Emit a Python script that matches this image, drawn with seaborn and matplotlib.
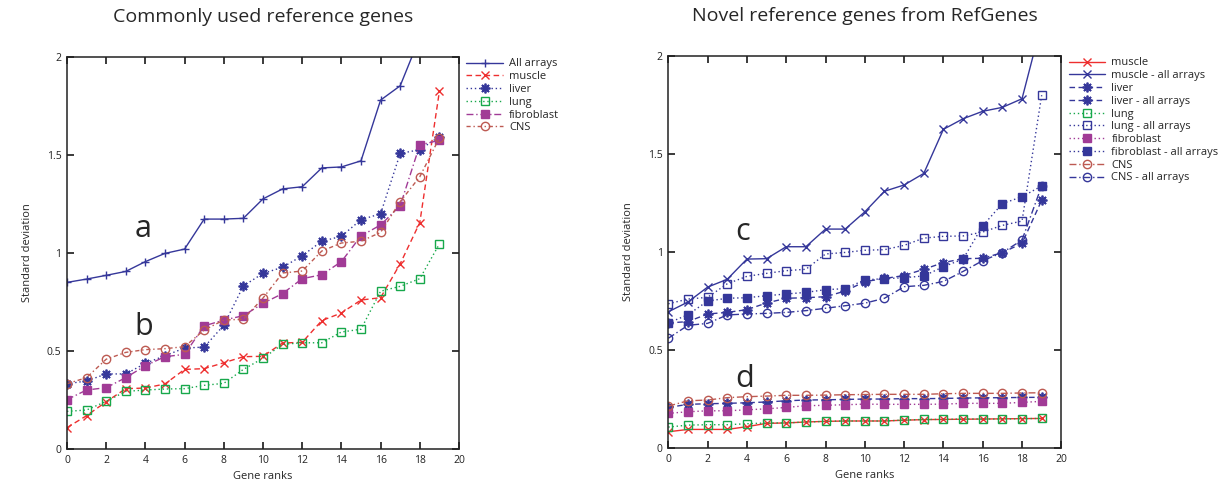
import numpy as np
import pandas as pd
import matplotlib
matplotlib.use("Agg")
import matplotlib.pyplot as plt
import seaborn as sns

# ---- data -------------------------------------------------------------
ranks = list(range(20))

# Commonly used reference genes
all_arrays = [0.85, 0.867, 0.886, 0.906, 0.956, 0.998, 1.02, 1.173, 1.173, 1.177,
              1.276, 1.327, 1.338, 1.434, 1.439, 1.47, 1.78, 1.853, 2.10, 2.30]
muscle_a = [0.109, 0.17, 0.241, 0.308, 0.311, 0.332, 0.406, 0.41, 0.44, 0.471,
            0.473, 0.541, 0.544, 0.655, 0.694, 0.76, 0.772, 0.945, 1.155, 1.825]
liver_a = [0.333, 0.347, 0.383, 0.383, 0.437, 0.476, 0.515, 0.52, 0.631, 0.832,
           0.896, 0.927, 0.986, 1.06, 1.085, 1.17, 1.2, 1.508, 1.527, 1.594]
lung_a = [0.192, 0.199, 0.243, 0.294, 0.301, 0.306, 0.308, 0.325, 0.335, 0.406,
          0.463, 0.534, 0.542, 0.542, 0.597, 0.611, 0.805, 0.83, 0.869, 1.046]
fibro_a = [0.252, 0.301, 0.313, 0.364, 0.425, 0.471, 0.483, 0.628, 0.658, 0.68,
           0.743, 0.793, 0.869, 0.889, 0.956, 1.087, 1.143, 1.241, 1.551, 1.575]
cns_a = [0.333, 0.364, 0.458, 0.493, 0.507, 0.512, 0.522, 0.607, 0.658, 0.662,
         0.77, 0.898, 0.908, 1.01, 1.051, 1.06, 1.105, 1.262, 1.389, 1.587]

# Novel reference genes from RefGenes
muscle_n = [0.083, 0.095, 0.095, 0.095, 0.109, 0.126, 0.128, 0.133, 0.136, 0.138,
            0.138, 0.138, 0.142, 0.145, 0.146, 0.147, 0.148, 0.149, 0.15, 0.151]
muscle_all = [0.695, 0.745, 0.821, 0.861, 0.964, 0.966, 1.027, 1.027, 1.117, 1.117,
              1.205, 1.31, 1.342, 1.401, 1.626, 1.68, 1.718, 1.738, 1.782, 2.17]
liver_n = [0.207, 0.223, 0.226, 0.228, 0.231, 0.235, 0.241, 0.245, 0.246, 0.248,
           0.25, 0.25, 0.252, 0.252, 0.253, 0.255, 0.256, 0.257, 0.258, 0.259]
liver_all = [0.638, 0.645, 0.684, 0.692, 0.706, 0.74, 0.764, 0.767, 0.772, 0.801,
             0.849, 0.865, 0.88, 0.912, 0.946, 0.966, 0.968, 0.997, 1.044, 1.264]
lung_n = [0.107, 0.117, 0.119, 0.119, 0.124, 0.128, 0.128, 0.133, 0.136, 0.138,
          0.138, 0.138, 0.143, 0.146, 0.146, 0.148, 0.148, 0.148, 0.15, 0.151]
lung_all = [0.736, 0.76, 0.769, 0.838, 0.876, 0.891, 0.905, 0.912, 0.99, 0.998,
            1.009, 1.012, 1.034, 1.071, 1.08, 1.082, 1.102, 1.136, 1.158, 1.80]
fibro_n = [0.177, 0.185, 0.19, 0.19, 0.195, 0.2, 0.207, 0.216, 0.218, 0.221,
           0.224, 0.223, 0.223, 0.223, 0.224, 0.228, 0.228, 0.228, 0.233, 0.238]
fibro_all = [0.638, 0.68, 0.75, 0.764, 0.767, 0.777, 0.786, 0.794, 0.808, 0.813,
             0.858, 0.864, 0.869, 0.878, 0.925, 0.964, 1.134, 1.247, 1.282, 1.337]
cns_n = [0.214, 0.241, 0.245, 0.257, 0.262, 0.265, 0.269, 0.269, 0.27, 0.272,
         0.273, 0.274, 0.274, 0.274, 0.277, 0.279, 0.279, 0.279, 0.281, 0.282]
cns_all = [0.56, 0.626, 0.636, 0.679, 0.684, 0.687, 0.692, 0.701, 0.713, 0.726,
           0.739, 0.764, 0.823, 0.83, 0.85, 0.901, 0.956, 0.997, 1.061, 1.337]

# ---- style ------------------------------------------------------------
sns.set_theme(style="ticks")
plt.rcParams["font.family"] = ["Open Sans", "DejaVu Sans"]
plt.rcParams.update({
    "xtick.direction": "in", "ytick.direction": "in",
    "xtick.top": True, "ytick.right": True,
    "xtick.major.size": 5, "ytick.major.size": 5,
    "xtick.labelsize": 7.5, "ytick.labelsize": 7.5,
    "axes.linewidth": 1.1,
})

BLUE = "#35379a"
RED = "#ee2f2f"
GREEN = "#17a84b"
PURPLE = "#a13b96"
BROWN = "#bd5a52"
ASTER = (8, 2, 0)

DOT = (0, (1, 2))
DASH = (0, (4, 2.5))
DASHDOT = (0, (5, 2, 1, 2))
DASHDOT2 = (0, (3, 2, 1, 2))


def draw(ax, y, label, color, ls, marker, filled=False, ms=6, mew=1.0, lw=1.0):
    df = pd.DataFrame({"rank": ranks, "sd": y})
    kw = dict(marker=marker, markersize=ms, markeredgewidth=mew,
              markeredgecolor=color)
    if marker in ("s", "o"):
        kw["markerfacecolor"] = color if filled else "none"
    sns.lineplot(data=df, x="rank", y="sd", ax=ax, color=color, linestyle=ls,
                 linewidth=lw, label=label, **kw)


fig = plt.figure(figsize=(12.24, 4.87), dpi=100)
ax1 = fig.add_axes([0.0547, 0.078, 0.3203, 0.805])
ax2 = fig.add_axes([0.5460, 0.080, 0.3211, 0.805])

# left panel
draw(ax1, all_arrays, "All arrays", BLUE, "-", "+", ms=6)
draw(ax1, muscle_a, "muscle", RED, DASH, "x", ms=6)
draw(ax1, liver_a, "liver", BLUE, DOT, ASTER, ms=7, mew=1.3)
draw(ax1, lung_a, "lung", GREEN, DOT, "s", ms=6)
draw(ax1, fibro_a, "fibroblast", PURPLE, DASHDOT, "s", filled=True, ms=6)
draw(ax1, cns_a, "CNS", BROWN, DASHDOT2, "o", ms=6)

# right panel
draw(ax2, muscle_n, "muscle", RED, "-", "x", ms=6)
draw(ax2, muscle_all, "muscle - all arrays", BLUE, "-", "x", ms=6)
draw(ax2, liver_n, "liver", BLUE, DASH, ASTER, ms=7, mew=1.3)
draw(ax2, liver_all, "liver - all arrays", BLUE, DASH, ASTER, ms=7, mew=1.3)
draw(ax2, lung_n, "lung", GREEN, DOT, "s", ms=6)
draw(ax2, lung_all, "lung - all arrays", BLUE, DOT, "s", ms=6)
draw(ax2, fibro_n, "fibroblast", PURPLE, DOT, "s", filled=True, ms=6)
draw(ax2, fibro_all, "fibroblast - all arrays", BLUE, DOT, "s", filled=True, ms=6)
draw(ax2, cns_n, "CNS", BROWN, DASHDOT, "o", ms=6)
draw(ax2, cns_all, "CNS - all arrays", BLUE, DASHDOT, "o", ms=6)

titles = ["Commonly used reference genes", "Novel reference genes from RefGenes"]
for ax, title in zip((ax1, ax2), titles):
    ax.set_xlim(0, 20)
    ax.set_ylim(0, 2)
    ax.set_xticks(range(0, 21, 2))
    ax.set_yticks([0, 0.5, 1, 1.5, 2])
    ax.set_yticklabels(["0", "0.5", "1", "1.5", "2"])
    ax.set_xlabel("Gene ranks", fontsize=8, labelpad=4)
    ax.set_ylabel("Standard deviation", fontsize=8, labelpad=10)
    ax.set_title(title, fontsize=14, pad=25)
    for s in ax.spines.values():
        s.set_color("#222222")
    ax.tick_params(colors="#222222", pad=4)
    ax.legend(loc="upper left", bbox_to_anchor=(1.013, 1.002), frameon=False,
              fontsize=8, handlelength=3.3, handletextpad=0.55,
              labelspacing=0.16, borderaxespad=0.0, borderpad=0.2)

ax1.text(3.9, 1.12, "a", fontsize=22, ha="center", va="center")
ax1.text(3.9, 0.62, "b", fontsize=22, ha="center", va="center")
ax2.text(3.8, 1.10, "c", fontsize=22, ha="center", va="center")
ax2.text(3.9, 0.35, "d", fontsize=22, ha="center", va="center")

fig.savefig("out.png", dpi=100)
